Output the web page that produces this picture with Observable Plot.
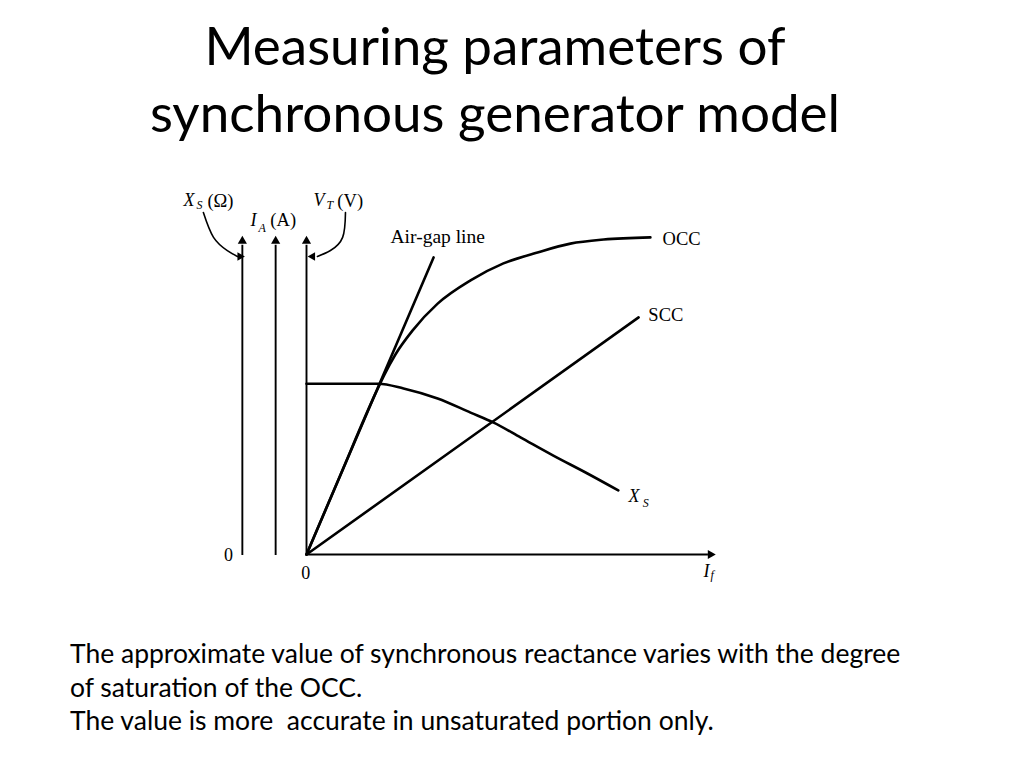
<!DOCTYPE html>
<html>
<head>
<meta charset="utf-8">
<script src="https://cdn.jsdelivr.net/npm/d3@7"></script>
<script src="https://cdn.jsdelivr.net/npm/@observablehq/plot@0.6"></script>
<style>
  html, body { margin: 0; padding: 0; background: #fff; width: 1024px; height: 768px; overflow: hidden; }
  #title { position: absolute; left: 0; top: 0; width: 990px; text-align: center;
           font-family: Lato, "Open Sans", sans-serif; font-size: 53px; line-height: 67px;
           padding-top: 11px; color: #000; margin: 0; font-weight: normal; }
  #chart { position: absolute; left: 0; top: 170px; }
  #caption { position: absolute; left: 70px; top: 637px; font-family: Lato, "Open Sans", sans-serif;
             font-size: 26.5px; line-height: 33.5px; color: #000; white-space: pre; }
</style>
</head>
<body>
<h1 id="title"></h1>
<div id="chart"></div>
<div id="caption"></div>
<script>
// ---- data (If and quantities in relative units) ----
const titleLines = ["Measuring parameters of", "synchronous generator model"];
const captionLines = [
  "The approximate value of synchronous reactance varies with the degree",
  "of saturation of the OCC.",
  "The value is more  accurate in unsaturated portion only."
];

// Open-circuit characteristic (OCC)
const occIf = [0, 0.84, 1.70, 1.92, 2.19, 2.61, 3.23, 4.04, 4.85, 5.69, 6.50, 7.32, 8.47];
const occV  = [0, 2.55, 5.13, 5.73, 6.37, 7.13, 7.99, 8.73, 9.27, 9.62, 9.90, 10.03, 10.10];

// Air-gap line
const airIf = [0, 3.13];
const airV  = [0, 9.46];

// Short-circuit characteristic (SCC)
const sccIf = [0, 8.18];
const sccI  = [0, 7.55];

// Synchronous reactance Xs
const xsIf = [0, 1.77, 2.39, 3.23, 4.04, 4.61, 5.27, 6.08, 6.92, 7.68];
const xsX  = [5.44, 5.44, 5.29, 4.97, 4.52, 4.20, 3.73, 3.15, 2.58, 2.04];

// Vertical axes: Xs (Ω), IA (A), VT (V)
const axisNames = ["XS", "IA", "VT"];
const axisPos   = [-1.58, -0.76, 0];
const axisTop   = 9.95;

// Horizontal axis (If)
const ifAxisEnd = 10;

// Curved pointer arrows from axis titles
const xsPtrIf = [-2.54, -2.29, -1.95, -1.70];
const xsPtrY  = [10.89, 10.10, 9.68, 9.49];
const vtPtrIf = [0.96, 0.89, 0.59, 0.27];
const vtPtrY  = [10.89, 10.10, 9.68, 9.49];

// Text labels
const labelText     = ["Air-gap line", "OCC", "SCC", "X", "S", "I", "f", "0", "0",
                       "X", "S", "(Ω)", "I", "A", "(A)", "V", "T", "(V)"];
const labelIf       = [2.07, 8.77, 8.42, 7.93, 8.28, 9.78, 9.95, -0.02, -1.92,
                       -3.03, -2.71, -2.44, -1.38, -1.18, -0.89, 0.17, 0.49, 0.76];
const labelY        = [10.13, 10.06, 7.61, 1.85, 1.62, -0.54, -0.67, -0.61, -0.03,
                       11.27, 11.11, 11.27, 10.64, 10.38, 10.64, 11.27, 11.11, 11.27];
const labelItalic   = [false, false, false, true, true, true, true, false, false,
                       true, true, false, true, true, false, true, true, false];
const labelSub      = [false, false, false, false, true, false, true, false, false,
                       false, true, false, false, true, false, false, true, false];
const labelCentered = [false, false, false, false, false, false, false, true, true,
                       false, false, false, false, false, false, false, false, false];

// ---- build tables ----
const zipXY = (xs, ys) => xs.map((x, i) => ({x, y: ys[i]}));
const occ = zipXY(occIf, occV);
const air = zipXY(airIf, airV);
const scc = zipXY(sccIf, sccI);
const xs = zipXY(xsIf, xsX);
const xsPtr = zipXY(xsPtrIf, xsPtrY);
const vtPtr = zipXY(vtPtrIf, vtPtrY);
const axes = axisNames.map((n, i) => ({name: n, x: axisPos[i]}));
const labels = labelText.map((t, i) => ({text: t, x: labelIf[i], y: labelY[i],
  italic: labelItalic[i], sub: labelSub[i], centered: labelCentered[i]}));

const serif = "'Liberation Serif', 'Times New Roman', serif";
const centeredLabels = labels.filter(d => d.centered);
const uprightLabels = labels.filter(d => !d.sub && !d.italic && !d.centered && d.text !== "Air-gap line");
const airLabel = labels.filter(d => d.text === "Air-gap line");
const italicLabels = labels.filter(d => !d.sub && d.italic);
const subLabels = labels.filter(d => d.sub);

const tipsUp = axes.map(a => ({x: a.x, y: axisTop + 0.03}));

const chart = Plot.plot({
  width: 1024,
  height: 450,
  x: {domain: [0, 10], range: [306, 712], axis: null},
  y: {domain: [0, 10], range: [384, 70], axis: null},
  style: {background: "#fff", overflow: "visible"},
  marks: [
    // vertical axes
    Plot.ruleX(axes, {x: "x", y1: d => d.x === 0 ? 0 : -0.03, y2: axisTop - 0.1, stroke: "#000", strokeWidth: 1.9}),
    Plot.dot(tipsUp, {x: "x", y: "y", symbol: "triangle", r: 3.4, fill: "#000", stroke: "none"}),
    // If axis
    Plot.ruleY([0], {x1: 0, x2: ifAxisEnd - 0.1, stroke: "#000", strokeWidth: 1.9}),
    Plot.dot([{x: ifAxisEnd - 0.05, y: 0}], {x: "x", y: "y", symbol: "triangle", rotate: 90, r: 3.4, fill: "#000", stroke: "none"}),
    // pointer arrows
    Plot.line(xsPtr, {x: "x", y: "y", curve: "natural", stroke: "#000", strokeWidth: 1.6}),
    Plot.dot([{x: xsPtrIf[3] + 0.06, y: xsPtrY[3]}], {x: "x", y: "y", symbol: "triangle", rotate: 90, r: 3.2, fill: "#000", stroke: "none"}),
    Plot.line(vtPtr, {x: "x", y: "y", curve: "natural", stroke: "#000", strokeWidth: 1.6}),
    Plot.dot([{x: vtPtrIf[3] - 0.12, y: vtPtrY[3]}], {x: "x", y: "y", symbol: "triangle", rotate: -90, r: 3.2, fill: "#000", stroke: "none"}),
    // curves
    Plot.line(air, {x: "x", y: "y", stroke: "#000", strokeWidth: 2.6}),
    Plot.line(occ, {x: "x", y: "y", curve: "monotone-x", stroke: "#000", strokeWidth: 2.6}),
    Plot.line(scc, {x: "x", y: "y", stroke: "#000", strokeWidth: 2.6}),
    Plot.line(xs, {x: "x", y: "y", curve: "monotone-x", stroke: "#000", strokeWidth: 2.6}),
    // labels
    Plot.text(centeredLabels, {x: "x", y: "y", text: "text", textAnchor: "middle",
      fontFamily: serif, fontSize: 18, fill: "#000"}),
    Plot.text(uprightLabels, {x: "x", y: "y", text: "text", textAnchor: "start",
      fontFamily: serif, fontSize: 18.5, fill: "#000"}),
    Plot.text(airLabel, {x: "x", y: "y", text: "text", textAnchor: "start",
      fontFamily: serif, fontSize: 19.5, fill: "#000"}),
    Plot.text(italicLabels, {x: "x", y: "y", text: "text", textAnchor: "start",
      fontFamily: serif, fontSize: 18, fontStyle: "italic", fill: "#000"}),
    Plot.text(subLabels, {x: "x", y: "y", text: "text", textAnchor: "start",
      fontFamily: serif, fontSize: 12, fontStyle: "italic", fill: "#000"})
  ]
});
document.getElementById("chart").append(chart);
document.getElementById("title").innerHTML = titleLines.join("<br>");
document.getElementById("caption").textContent = captionLines.join("\n");
</script>
</body>
</html>
